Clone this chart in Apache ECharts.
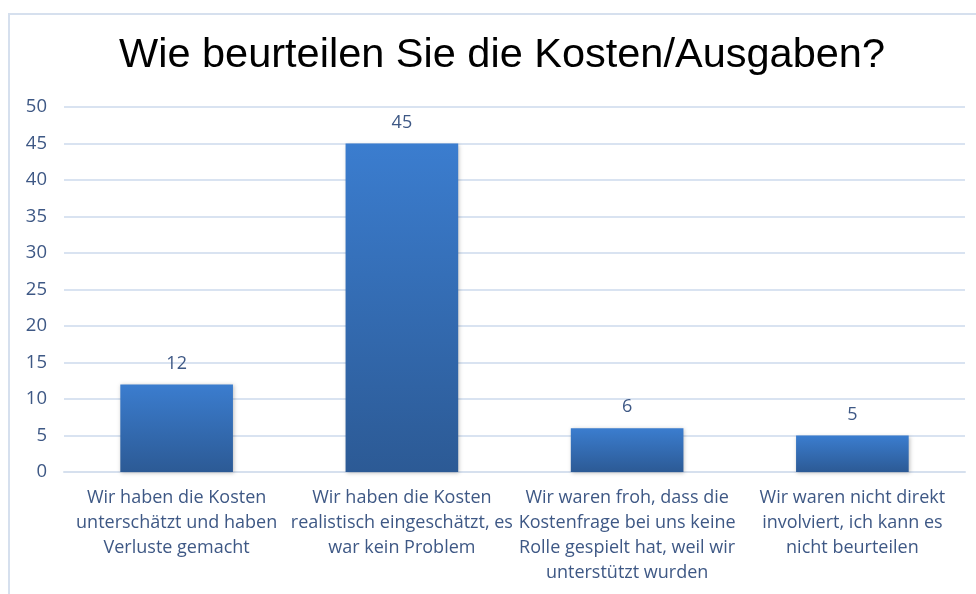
<!DOCTYPE html>
<html><head><meta charset="utf-8">
<script src="https://cdn.jsdelivr.net/npm/echarts@6/dist/echarts.min.js"></script>
<style>
html,body{margin:0;padding:0;background:#fff;overflow:hidden}
#frame{position:absolute;left:8px;top:13px;width:1000px;height:600px;border-left:2px solid #d6e0ee;border-top:2px solid #d6e0ee;box-sizing:border-box}
#c{position:absolute;left:0;top:0;width:976px;height:594px}
</style></head>
<body>
<div id="frame"></div>
<div id="c"></div>
<script>
const titleText = 'Wie beurteilen Sie die Kosten/Ausgaben?';
const categories = [
  'Wir haben die Kosten\nunterschätzt und haben\nVerluste gemacht',
  'Wir haben die Kosten\nrealistisch eingeschätzt, es\nwar kein Problem',
  'Wir waren froh, dass die\nKostenfrage bei uns keine\nRolle gespielt hat, weil wir\nunterstützt wurden',
  'Wir waren nicht direkt\ninvolviert, ich kann es\nnicht beurteilen'
];
const values = [12, 45, 6, 5];
const yTicks = {min: 0, max: 50, interval: 5};

const chart = echarts.init(document.getElementById('c'));
const labelColor = '#3e5885';
const font = '"Open Sans", Lato, sans-serif';
chart.setOption({
  animation: false,
  title: {
    text: titleText, left: 497, top: 30, textAlign: 'center',
    textStyle: {fontFamily: '"Liberation Sans", Arial, sans-serif', fontSize: 41.5, fontWeight: 'normal', color: '#000'}
  },
  grid: {left: 64, right: 11, top: 107, bottom: 122},
  xAxis: {
    type: 'category', data: categories,
    axisLine: {lineStyle: {color: '#d6e0ee', width: 2}},
    axisTick: {show: false},
    axisLabel: {color: labelColor, fontFamily: font, fontSize: 18, lineHeight: 25, margin: 13, interval: 0}
  },
  yAxis: {
    type: 'value', min: yTicks.min, max: yTicks.max, interval: yTicks.interval,
    axisLine: {show: false}, axisTick: {show: false},
    axisLabel: {color: labelColor, fontFamily: font, fontSize: 18.5, margin: 17},
    splitLine: {lineStyle: {color: '#d9e3f1', width: 2}}
  },
  series: [{
    type: 'bar', data: values, barWidth: '50%',
    itemStyle: {
      color: new echarts.graphic.LinearGradient(0, 0, 0, 1, [
        {offset: 0, color: '#3b7dcf'}, {offset: 1, color: '#2c5a95'}
      ]),
      shadowColor: 'rgba(0,0,0,0.25)', shadowBlur: 4, shadowOffsetX: 1, shadowOffsetY: 1
    },
    label: {show: true, position: 'top', distance: 12, color: labelColor, fontFamily: font, fontSize: 18}
  }]
});
</script>
</body></html>
